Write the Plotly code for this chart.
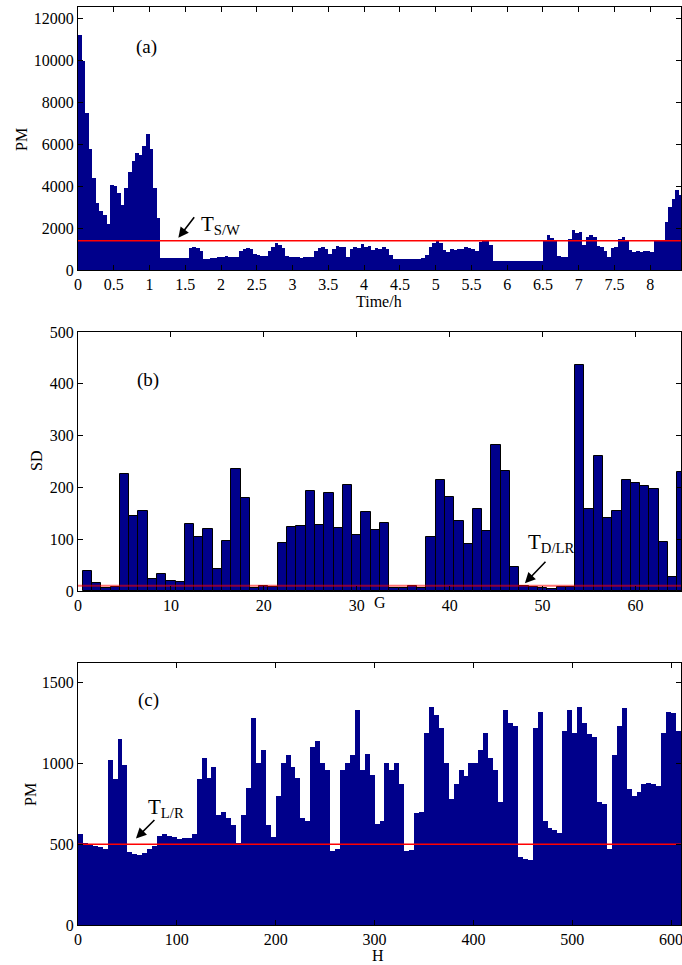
import numpy as np
import plotly.graph_objects as go

# ---------------- data ----------------
# (a) PM vs time (h), bins of 0.05 h
time_bin_a = 0.05
pm_a = [11200, 10000, 7500, 5800, 4400, 3200, 2800, 2650, 2200, 4050,
        4000, 3700, 3100, 3900, 4700, 5200, 5600, 5500, 5900, 6500,
        5800, 3900, 2500, 580, 580, 570, 560, 560, 550, 560,
        570, 1050, 1120, 1050, 900, 520, 540, 560, 580, 620,
        640, 650, 640, 630, 620, 900, 1000, 1060, 980, 760,
        720, 680, 650, 900, 1100, 1300, 1200, 1050, 650, 600,
        610, 600, 590, 600, 610, 620, 900, 1050, 1080, 1000,
        750, 1000, 1150, 1100, 1120, 640, 1000, 1100, 1050, 1250,
        1100, 1150, 950, 1050, 1000, 1080, 1000, 700, 540, 530,
        530, 540, 530, 520, 530, 540, 560, 720, 1100, 1300,
        1450, 1300, 950, 850, 1000, 950, 1020, 1000, 1080, 1050,
        1000, 900, 1350, 1450, 1400, 1200, 450, 420, 430, 420,
        410, 420, 420, 430, 420, 410, 420, 420, 430, 420,
        1450, 1650, 1550, 1450, 650, 600, 620, 1500, 1900, 1750,
        1800, 1200, 1600, 1650, 1600, 1150, 1100, 900, 600, 1050,
        1100, 1500, 1600, 1450, 950, 880, 900, 880, 900, 890,
        870, 1400, 1450, 1380, 2300, 3000, 3400, 3800, 3600]
T_SW = 1400
xticks_a = [0, 0.5, 1, 1.5, 2, 2.5, 3, 3.5, 4, 4.5, 5, 5.5, 6, 6.5, 7, 7.5, 8]
xticklabels_a = ["0", "0.5", "1", "1.5", "2", "2.5", "3", "3.5", "4", "4.5",
                 "5", "5.5", "6", "6.5", "7", "7.5", "8"]
yticks_a = [0, 2000, 4000, 6000, 8000, 10000, 12000]
yticklabels_a = ["0", "2000", "4000", "6000", "8000", "10000", "12000"]

# (b) SD per group G
g_b = list(range(1, 66))
sd_b = [38, 15, 6, 7, 225, 145, 155, 24, 32, 20,
        18, 130, 105, 120, 43, 97, 235, 180, 6, 9,
        7, 92, 123, 125, 193, 127, 190, 121, 204, 109,
        153, 118, 132, 5, 5, 9, 5, 104, 215, 182,
        135, 90, 158, 115, 282, 232, 47, 9, 8, 6,
        3, 7, 7, 437, 158, 260, 141, 154, 214, 208,
        203, 197, 94, 27, 229]
T_DLR = 10
xticks_b = [0, 10, 20, 30, 40, 50, 60]
yticks_b = [0, 100, 200, 300, 400, 500]

# (c) PM vs H, bins of 5
h_bin_c = 5
pm_c = [560, 505, 495, 490, 480, 470, 1020, 900, 1150, 990,
        450, 440, 430, 445, 470, 490, 550, 560, 550, 545,
        530, 540, 535, 560, 900, 1030, 910, 980, 680, 700,
        660, 620, 510, 680, 850, 1280, 1000, 1080, 620, 545,
        800, 1000, 1050, 980, 910, 660, 640, 1100, 1140, 1000,
        960, 460, 470, 960, 1000, 1050, 1330, 960, 1060, 930,
        625, 640, 1000, 960, 1000, 870, 460, 465, 690, 700,
        1190, 1350, 1300, 1220, 1000, 780, 870, 960, 920, 1000,
        1000, 1080, 1190, 1030, 960, 760, 1330, 1250, 1230, 420,
        410, 400, 1220, 1320, 640, 600, 590, 570, 1200, 1330,
        1190, 1345, 1250, 1180, 1160, 760, 750, 470, 1050, 1230,
        1340, 840, 800, 820, 870, 880, 870, 860, 1190, 1320,
        1310, 1200]
T_LR = 500
xticks_c = [0, 100, 200, 300, 400, 500, 600]
yticks_c = [0, 500, 1000, 1500]

# ---------------- style / layout ----------------
W, H = 682, 965
L, R = 78, 681               # plot area edges in window pixels
NAVY = "#00008B"
FONT = "Liberation Serif"


def px_x(px):
    return (px - L) / (R - L)


def px_y(py):
    return 1 - py / H


t_a = np.arange(len(pm_a)) * time_bin_a + time_bin_a / 2
h_c = np.arange(len(pm_c)) * h_bin_c + h_bin_c / 2

fig = go.Figure()
fig.add_trace(go.Bar(x=t_a, y=pm_a, width=time_bin_a,
                     marker=dict(color=NAVY, line=dict(width=0)),
                     xaxis="x", yaxis="y"))
fig.add_trace(go.Scatter(x=[0, 8.43], y=[T_SW, T_SW], mode="lines",
                         line=dict(color="red", width=1.5),
                         xaxis="x", yaxis="y"))

fig.add_trace(go.Bar(x=g_b, y=sd_b, width=1,
                     marker=dict(color=NAVY, line=dict(color="black", width=1)),
                     xaxis="x2", yaxis="y2"))
fig.add_trace(go.Scatter(x=[0, 65], y=[T_DLR, T_DLR], mode="lines",
                         line=dict(color="red", width=2), opacity=0.55,
                         xaxis="x2", yaxis="y2"))

fig.add_trace(go.Bar(x=h_c, y=pm_c, width=h_bin_c,
                     marker=dict(color=NAVY, line=dict(width=0)),
                     xaxis="x3", yaxis="y3"))
fig.add_trace(go.Scatter(x=[0, 610], y=[T_LR, T_LR], mode="lines",
                         line=dict(color="red", width=1.5),
                         xaxis="x3", yaxis="y3"))

ax_common = dict(showline=True, linecolor="black", linewidth=1, mirror="allticks",
                 ticks="inside", ticklen=5, tickcolor="black", showgrid=False,
                 zeroline=False, automargin=False, ticklabeloverflow="allow",
                 tickfont=dict(family=FONT, size=16, color="black"))

dom_a = [px_y(270), px_y(7)]
dom_b = [px_y(591), px_y(332)]
dom_c = [px_y(925), px_y(663)]

fig.update_layout(
    width=W, height=H,
    margin=dict(l=L, r=W - R, t=0, b=0, pad=0, autoexpand=False),
    paper_bgcolor="white", plot_bgcolor="white", showlegend=False, bargap=0,
    font=dict(family=FONT, size=16, color="black"),
    xaxis=dict(ax_common, domain=[0, 1], anchor="y", range=[0, 8.43],
               tickvals=xticks_a, ticktext=xticklabels_a),
    yaxis=dict(ax_common, domain=dom_a, anchor="x", range=[0, 12560],
               tickvals=yticks_a, ticktext=yticklabels_a),
    xaxis2=dict(ax_common, domain=[0, 1], anchor="y2", range=[0, 64.9],
                tickvals=xticks_b),
    yaxis2=dict(ax_common, domain=dom_b, anchor="x2", range=[0, 500],
                tickvals=yticks_b),
    xaxis3=dict(ax_common, domain=[0, 1], anchor="y3", range=[0, 610],
                tickvals=xticks_c),
    yaxis3=dict(ax_common, domain=dom_c, anchor="x3", range=[0, 1620],
                tickvals=yticks_c),
)

ann = []


def title(text, px, py, angle=0):
    ann.append(dict(text=text, x=px_x(px), y=px_y(py), xref="paper", yref="paper",
                    xanchor="center", yanchor="middle", showarrow=False,
                    textangle=angle, font=dict(family=FONT, size=16, color="black")))


title("PM", 22, 140, -90)
title("Time/h", 379, 301)
title("SD", 37, 461, -90)
title("G", 380, 602)
title("PM", 30, 795, -90)
title("H", 378, 955)

# panel labels
for lab, px, py in [("(a)", 146, 47), ("(b)", 148, 380), ("(c)", 148, 700)]:
    ann.append(dict(text=lab, x=px_x(px), y=px_y(py), xref="paper", yref="paper",
                    xanchor="center", yanchor="middle", showarrow=False,
                    font=dict(family=FONT, size=19, color="black")))

# threshold labels
for txt, px, py in [("T<sub>S/W</sub>", 199, 210), ("T<sub>D/LR</sub>", 526, 528),
                    ("T<sub>L/R</sub>", 146, 793)]:
    ann.append(dict(text=txt, x=px_x(px), y=px_y(py), xref="paper", yref="paper",
                    xanchor="left", yanchor="top", showarrow=False,
                    font=dict(family=FONT, size=21, color="black")))

# arrows (head in data coords, tail offset in px)
arrow = dict(text="", showarrow=True, arrowhead=2, arrowsize=1.3, arrowwidth=1.6,
             arrowcolor="black", axref="pixel", ayref="pixel")
ann.append(dict(arrow, x=1.403, y=1536, xref="x", yref="y", ax=17, ay=-22))
ann.append(dict(arrow, x=48.1, y=15, xref="x2", yref="y2", ax=22, ay=-23))
ann.append(dict(arrow, x=58.6, y=535, xref="x3", yref="y3", ax=20, ay=-20))

fig.update_layout(annotations=ann)
# remove the default 8px page margin so the figure fills the window exactly
fig.write_html("out.html",
               config={"displayModeBar": False},
               post_script="document.body.style.margin='0px';"
                           "document.body.style.overflow='hidden';")
